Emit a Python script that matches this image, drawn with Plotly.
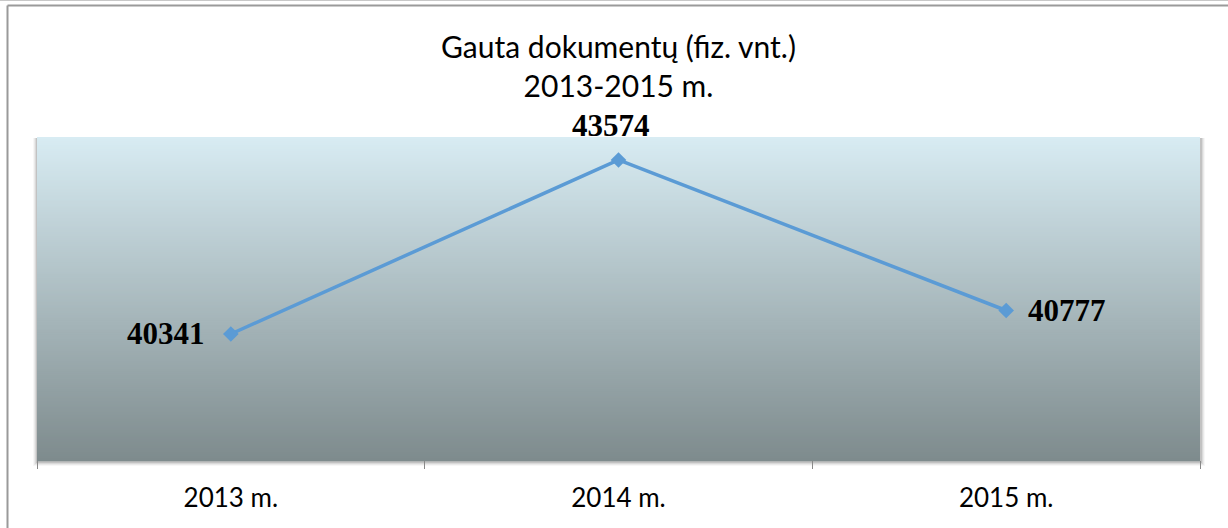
import plotly.graph_objects as go

categories = ["2013 m.", "2014 m.", "2015 m."]
values = [40341, 43574, 40777]
title_lines = ["Gauta dokumentų (fiz. vnt.)", "2013-2015 m."]

W, H = 1228, 528
ML, MR, MT, MB = 37, 28, 137, 68
PW = W - ML - MR
PH = H - MT - MB

def px_x(px):
    return (px - ML) / PW

def px_y(py):
    return (H - MB - py) / PH

fig = go.Figure()

fig.add_trace(go.Scatter(
    x=categories, y=values, mode="lines+markers",
    line=dict(color="#5b9bd5", width=3.5),
    marker=dict(symbol="diamond", size=12, color="#5b9bd5"),
    hoverinfo="skip", showlegend=False,
))

shapes = []
# soft shadow around plot area
for i, op in enumerate([0.10, 0.07, 0.05, 0.03]):
    d = i + 1
    shapes.append(dict(type="rect", xref="paper", yref="paper",
                       x0=px_x(ML - d), x1=px_x(ML + PW + d + 1),
                       y0=px_y(MT + PH + d + 2), y1=px_y(MT + 1),
                       fillcolor=f"rgba(0,0,0,{op})", line=dict(width=0), layer="below"))
# gradient background
top = (216, 236, 243)
bot = (126, 139, 141)
n = 160
for i in range(n):
    t = (i + 0.5) / n
    c = tuple(round(top[k] + (bot[k] - top[k]) * t) for k in range(3))
    shapes.append(dict(type="rect", xref="paper", yref="paper",
                       x0=0, x1=1, y0=1 - (i + 1) / n - 0.004, y1=1 - i / n,
                       fillcolor=f"rgb{c}", line=dict(width=0), layer="below"))
# outer frame lines
shapes.append(dict(type="line", xref="paper", yref="paper",
                   x0=px_x(0), x1=px_x(W), y0=px_y(0.5), y1=px_y(0.5),
                   line=dict(color="#c8c8c8", width=1)))
shapes.append(dict(type="line", xref="paper", yref="paper",
                   x0=px_x(7.5), x1=px_x(W), y0=px_y(5.5), y1=px_y(5.5),
                   line=dict(color="#9a9a9a", width=2)))
shapes.append(dict(type="line", xref="paper", yref="paper",
                   x0=px_x(7.5), x1=px_x(7.5), y0=px_y(5.5), y1=px_y(H),
                   line=dict(color="#9a9a9a", width=2)))

label_font = dict(family="Liberation Serif", size=31, color="#000000")
offsets = [(-24, 0, "right", "middle"), (-8, 15, "center", "bottom"), (20, 0, "left", "middle")]
annotations = []
for c, v, (xs, ys, xa, ya) in zip(categories, values, offsets):
    annotations.append(dict(x=c, y=v, xref="x", yref="y", text=f"<b>{v}</b>",
                            showarrow=False, xanchor=xa, yanchor=ya,
                            xshift=xs, yshift=ys, font=label_font))

fig.update_layout(
    width=W, height=H,
    margin=dict(l=ML, r=MR, t=MT, b=MB, pad=0),
    paper_bgcolor="white", plot_bgcolor="rgba(0,0,0,0)",
    title=dict(text="<br>".join(title_lines), x=0.5, xref="paper",
               y=1 - 58 / H, yref="container", yanchor="top",
               font=dict(family="Lato", size=30, color="#000000")),
    shapes=shapes, annotations=annotations,
    xaxis=dict(type="category", range=[-0.5, 2.5], showgrid=False, zeroline=False,
               showline=False, ticks="outside", tickson="boundaries", ticklen=8,
               tickcolor="#888888", tickwidth=1, ticklabelstandoff=20,
               tickfont=dict(family="Lato", size=26, color="#000000")),
    yaxis=dict(range=[38000, 44000], visible=False, showgrid=False, zeroline=False),
)

fig.write_html("out.html", config={"displayModeBar": False},
               post_script="document.body.style.margin='0';")
